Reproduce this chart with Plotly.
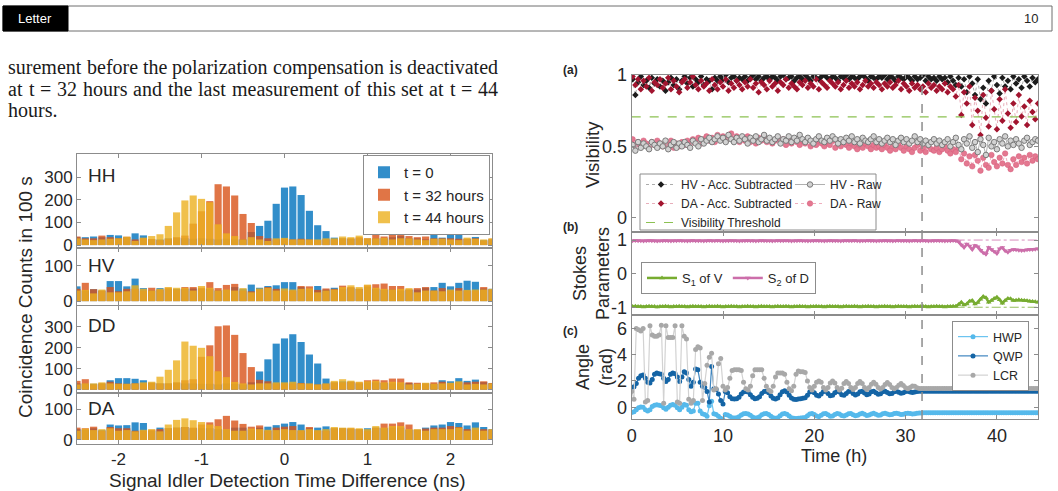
import plotly.graph_objects as go

W, H = 1058, 491
def px(x): return x / W
def py(y): return 1 - y / H

# ---------------- histogram data (coincidence counts in 100 s) ----------------
bins = [-2.5, -2.4, -2.3, -2.2, -2.1, -2.0, -1.9, -1.8, -1.7, -1.6,
        -1.5, -1.4, -1.3, -1.2, -1.1, -1.0, -0.9, -0.8, -0.7, -0.6,
        -0.5, -0.4, -0.3, -0.2, -0.1, 0.0, 0.1, 0.2, 0.3, 0.4,
        0.5, 0.6, 0.7, 0.8, 0.9, 1.0, 1.1, 1.2, 1.3, 1.4,
        1.5, 1.6, 1.7, 1.8, 1.9, 2.0, 2.1, 2.2, 2.3, 2.4, 2.5]
series_labels = ["t = 0", "t = 32 hours", "t = 44 hours"]
hist_xticks = [-2, -1, 0, 1, 2]
hist_xticktext = ["-2", "-1", "0", "1", "2"]

hh_t0 = [35, 35, 38, 35, 45, 43, 35, 52, 43, 25, 25, 30, 32, 30, 28, 30, 28, 25, 28, 25,
         25, 58, 85, 108, 183, 255, 260, 222, 152, 88, 62, 33, 30, 28, 30, 28, 30, 30, 35, 40,
         30, 30, 25, 50, 33, 55, 62, 28, 36, 22, 25]
hh_t32 = [38, 30, 30, 42, 35, 30, 37, 25, 30, 27, 22, 28, 35, 42, 95, 150, 195, 270, 260, 220,
          138, 98, 40, 30, 25, 28, 25, 28, 25, 22, 25, 25, 30, 30, 35, 30, 45, 38, 45, 50,
          40, 35, 38, 30, 30, 30, 28, 28, 30, 20, 28]
hh_t44 = [30, 25, 22, 25, 28, 30, 37, 18, 33, 40, 48, 85, 145, 198, 220, 205, 190, 92, 52, 40,
          25, 35, 25, 18, 30, 32, 25, 25, 25, 25, 30, 30, 38, 35, 42, 30, 30, 32, 25, 30,
          30, 25, 22, 28, 28, 25, 22, 33, 28, 25, 30]

hv_t0 = [42, 30, 34, 30, 57, 57, 42, 64, 37, 30, 37, 35, 35, 35, 36, 35, 35, 30, 32, 40,
         35, 47, 38, 43, 45, 54, 54, 40, 33, 43, 33, 38, 35, 38, 35, 40, 35, 32, 33, 30,
         33, 33, 38, 40, 52, 42, 52, 58, 55, 36, 35]
hv_t32 = [35, 52, 34, 30, 40, 28, 35, 35, 30, 38, 32, 38, 33, 40, 40, 38, 54, 37, 46, 49,
          30, 28, 33, 40, 35, 30, 30, 43, 42, 32, 36, 35, 44, 40, 35, 45, 48, 50, 43, 43,
          33, 37, 40, 30, 37, 30, 37, 30, 30, 40, 33]
hv_t44 = [30, 32, 22, 33, 25, 25, 28, 45, 35, 30, 35, 40, 38, 38, 30, 43, 38, 30, 33, 30,
          37, 25, 36, 38, 30, 36, 33, 35, 36, 25, 30, 33, 40, 45, 40, 47, 38, 35, 33, 35,
          37, 25, 30, 30, 28, 33, 30, 32, 33, 33, 35]

dd_t0 = [30, 28, 28, 30, 45, 55, 55, 52, 45, 33, 30, 30, 33, 30, 30, 28, 28, 25, 30, 28,
         25, 35, 87, 145, 220, 245, 265, 228, 168, 125, 53, 35, 40, 38, 30, 35, 35, 32, 30, 30,
         32, 28, 30, 28, 45, 40, 55, 42, 48, 36, 30]
dd_t32 = [42, 50, 25, 30, 38, 30, 28, 30, 30, 33, 30, 30, 35, 45, 50, 157, 212, 303, 307, 262,
          175, 108, 47, 40, 30, 30, 30, 32, 28, 25, 28, 35, 35, 38, 35, 45, 48, 45, 53, 53,
          35, 33, 30, 35, 38, 30, 35, 35, 38, 40, 32]
dd_t44 = [25, 30, 30, 35, 30, 28, 28, 30, 35, 38, 62, 95, 140, 230, 210, 200, 160, 88, 60, 37,
          30, 25, 30, 30, 35, 35, 38, 30, 30, 25, 30, 42, 50, 43, 38, 40, 42, 35, 38, 35,
          25, 28, 33, 28, 30, 33, 40, 25, 28, 25, 30]

da_t0 = [35, 33, 38, 32, 50, 47, 48, 57, 55, 30, 40, 38, 40, 42, 38, 38, 38, 35, 33, 40,
         40, 33, 40, 43, 48, 53, 58, 50, 38, 40, 44, 38, 38, 35, 35, 38, 40, 38, 40, 40,
         33, 33, 40, 47, 50, 58, 55, 47, 57, 42, 35]
da_t32 = [40, 38, 43, 30, 42, 38, 38, 30, 30, 33, 35, 38, 40, 42, 40, 50, 57, 67, 78, 63,
          52, 43, 47, 30, 40, 43, 45, 30, 42, 30, 30, 38, 38, 38, 35, 30, 40, 53, 53, 57,
          50, 33, 37, 40, 40, 45, 42, 35, 33, 35, 33]
da_t44 = [30, 37, 32, 35, 38, 30, 32, 28, 33, 35, 28, 50, 65, 70, 64, 58, 50, 45, 35, 30,
          30, 37, 35, 33, 32, 35, 32, 32, 35, 32, 35, 42, 40, 40, 38, 35, 45, 40, 45, 45,
          35, 35, 30, 35, 35, 35, 40, 30, 40, 30, 35]

# ---------------- (a) visibility vs time ----------------
t_a = [round(0.1 + 0.3 * k, 2) for k in range(149)]   # measurement times (h)
hv_acc = [0.97, 0.86, 0.95, 0.99, 0.93, 0.96, 0.91, 0.98, 0.94, 0.97,
          0.92, 0.96, 0.89, 0.95, 0.98, 0.93, 0.97, 0.90, 0.96, 0.99,
          0.94, 0.98, 0.92, 0.97, 0.95, 0.99, 0.93, 0.97, 0.96, 0.90,
          0.98, 0.96, 0.99, 0.97, 1.00, 0.95, 0.98, 0.99, 0.96, 0.98,
          0.97, 0.99, 0.96, 0.98, 1.00, 0.97, 0.99, 0.96, 0.98, 0.99,
          0.97, 0.99, 0.98, 0.96, 0.99, 1.00, 0.97, 0.98, 0.99, 0.96,
          0.98, 0.99, 0.97, 1.00, 0.98, 0.96, 0.99, 0.98, 0.97, 0.99,
          1.00, 0.98, 0.97, 0.99, 0.98, 0.96, 0.99, 0.98, 1.00, 0.97,
          0.99, 0.98, 0.97, 0.99, 1.00, 0.98, 0.96, 0.99, 0.98, 0.97,
          0.99, 0.98, 1.00, 0.97, 0.99, 0.98, 0.96, 0.99, 0.98, 0.97,
          0.99, 0.98, 0.96, 0.99, 0.97, 0.98, 1.00, 0.96, 0.99, 0.97,
          0.98, 0.96, 0.99, 0.97, 0.98, 0.95, 0.99, 0.96, 0.93, 0.98,
          0.92, 0.97, 0.88, 0.99, 0.94, 0.86, 0.97, 0.83, 0.91, 0.80,
          0.96, 0.89, 0.99, 0.93, 0.87, 0.98, 0.92, 0.96, 0.90, 0.99,
          0.94, 0.97, 0.91, 0.99, 0.96, 0.92, 0.98, 0.95, 0.97]
da_acc = [0.99, 0.93, 0.97, 0.90, 0.96, 0.92, 0.98, 0.89, 0.95, 0.93,
          0.97, 0.91, 0.94, 0.98, 0.90, 0.96, 0.92, 0.88, 0.95, 0.97,
          0.91, 0.95, 0.99, 0.93, 0.90, 0.96, 0.92, 0.94, 0.89, 0.97,
          0.93, 0.90, 0.95, 0.92, 0.97, 0.89, 0.94, 0.91, 0.96, 0.93,
          0.90, 0.95, 0.92, 0.97, 0.91, 0.94, 0.88, 0.95, 0.93, 0.90,
          0.96, 0.92, 0.94, 0.89, 0.95, 0.93, 0.97, 0.91, 0.94, 0.92,
          0.90, 0.95, 0.93, 0.96, 0.91, 0.94, 0.92, 0.97, 0.90, 0.95,
          0.93, 0.91, 0.96, 0.94, 0.92, 0.95, 0.90, 0.93, 0.96, 0.91,
          0.94, 0.92, 0.95, 0.90, 0.93, 0.96, 0.92, 0.94, 0.91, 0.95,
          0.93, 0.90, 0.94, 0.92, 0.95, 0.91, 0.93, 0.96, 0.90, 0.94,
          0.92, 0.89, 0.94, 0.91, 0.93, 0.90, 0.92, 0.88, 0.94, 0.91,
          0.93, 0.89, 0.92, 0.90, 0.94, 0.88, 0.92, 0.90, 0.85, 0.93,
          0.72, 0.88, 0.80, 0.92, 0.65, 0.84, 0.75, 0.58, 0.86, 0.70,
          0.64, 0.89, 0.76, 0.62, 0.83, 0.68, 0.90, 0.73, 0.63, 0.80,
          0.67, 0.86, 0.71, 0.78, 0.65, 0.82, 0.74, 0.69, 0.80]
hv_raw = [0.51, 0.47, 0.53, 0.49, 0.52, 0.50, 0.48, 0.53, 0.51, 0.49,
          0.52, 0.50, 0.54, 0.48, 0.51, 0.53, 0.49, 0.52, 0.50, 0.53,
          0.51, 0.49, 0.54, 0.52, 0.50, 0.55, 0.52, 0.54, 0.56, 0.53,
          0.55, 0.57, 0.54, 0.56, 0.53, 0.58, 0.55, 0.53, 0.56, 0.54,
          0.57, 0.55, 0.52, 0.56, 0.54, 0.57, 0.53, 0.55, 0.58, 0.54,
          0.56, 0.53, 0.55, 0.57, 0.52, 0.55, 0.54, 0.57, 0.53, 0.56,
          0.54, 0.58, 0.55, 0.53, 0.56, 0.54, 0.52, 0.55, 0.57, 0.54,
          0.53, 0.56, 0.54, 0.57, 0.55, 0.52, 0.55, 0.53, 0.56, 0.54,
          0.57, 0.53, 0.55, 0.52, 0.56, 0.54, 0.53, 0.55, 0.57, 0.53,
          0.55, 0.52, 0.54, 0.56, 0.53, 0.55, 0.51, 0.54, 0.56, 0.53,
          0.55, 0.52, 0.54, 0.57, 0.53, 0.55, 0.52, 0.54, 0.51, 0.53,
          0.55, 0.52, 0.54, 0.51, 0.53, 0.55, 0.50, 0.53, 0.56, 0.51,
          0.48, 0.55, 0.52, 0.57, 0.49, 0.53, 0.46, 0.55, 0.51, 0.44,
          0.56, 0.50, 0.53, 0.48, 0.55, 0.52, 0.57, 0.50, 0.54, 0.51,
          0.55, 0.52, 0.49, 0.54, 0.56, 0.51, 0.53, 0.55, 0.54]
da_raw = [0.55, 0.51, 0.53, 0.50, 0.54, 0.52, 0.49, 0.53, 0.51, 0.54,
          0.52, 0.50, 0.53, 0.51, 0.54, 0.49, 0.52, 0.50, 0.53, 0.51,
          0.54, 0.52, 0.55, 0.53, 0.56, 0.52, 0.55, 0.57, 0.54, 0.56,
          0.53, 0.58, 0.55, 0.57, 0.54, 0.56, 0.59, 0.55, 0.57, 0.53,
          0.56, 0.54, 0.57, 0.53, 0.55, 0.52, 0.56, 0.54, 0.57, 0.53,
          0.55, 0.52, 0.54, 0.56, 0.53, 0.55, 0.51, 0.54, 0.52, 0.55,
          0.53, 0.51, 0.54, 0.52, 0.55, 0.50, 0.53, 0.51, 0.54, 0.52,
          0.50, 0.53, 0.51, 0.54, 0.49, 0.52, 0.50, 0.53, 0.51, 0.49,
          0.52, 0.50, 0.48, 0.51, 0.49, 0.52, 0.50, 0.48, 0.51, 0.49,
          0.50, 0.48, 0.51, 0.49, 0.47, 0.50, 0.48, 0.51, 0.49, 0.47,
          0.50, 0.48, 0.46, 0.49, 0.51, 0.47, 0.49, 0.46, 0.50, 0.48,
          0.47, 0.49, 0.46, 0.48, 0.50, 0.47, 0.45, 0.48, 0.46, 0.49,
          0.41, 0.45, 0.38, 0.43, 0.36, 0.44, 0.40, 0.33, 0.42, 0.37,
          0.35, 0.44, 0.39, 0.36, 0.42, 0.38, 0.45, 0.37, 0.34, 0.41,
          0.37, 0.43, 0.39, 0.42, 0.38, 0.44, 0.40, 0.43, 0.41]
vis_threshold = 0.7071
t_limits = [0, 44.5]

# ---------------- (b) Stokes parameters ----------------
s1_v = [-0.98, -0.97, -0.98, -0.98, -0.99, -0.98, -0.97, -0.98, -0.98, -0.99,
        -0.98, -0.98, -0.97, -0.98, -0.99, -0.98, -0.98, -0.97, -0.98, -0.98,
        -0.99, -0.98, -0.97, -0.98, -0.98, -0.98, -0.99, -0.98, -0.97, -0.98,
        -0.98, -0.97, -0.98, -0.99, -0.98, -0.98, -0.97, -0.98, -0.98, -0.99,
        -0.98, -0.98, -0.97, -0.98, -0.98, -0.99, -0.98, -0.97, -0.98, -0.98,
        -0.98, -0.99, -0.98, -0.97, -0.98, -0.98, -0.97, -0.98, -0.99, -0.98,
        -0.98, -0.97, -0.98, -0.98, -0.99, -0.98, -0.98, -0.97, -0.98, -0.98,
        -0.99, -0.98, -0.97, -0.98, -0.98, -0.98, -0.99, -0.98, -0.97, -0.98,
        -0.98, -0.97, -0.98, -0.99, -0.98, -0.98, -0.97, -0.98, -0.98, -0.99,
        -0.98, -0.98, -0.97, -0.98, -0.98, -0.99, -0.98, -0.97, -0.98, -0.98,
        -0.98, -0.99, -0.98, -0.97, -0.98, -0.98, -0.97, -0.98, -0.99, -0.98,
        -0.98, -0.97, -0.98, -0.98, -0.99, -0.98, -0.98, -0.97,
        -0.97, -0.92, -0.85, -0.93, -0.90, -0.82, -0.80, -0.90, -0.86, -0.76,
        -0.68, -0.72, -0.85, -0.80, -0.74, -0.70, -0.78, -0.88, -0.80, -0.74,
        -0.75, -0.80, -0.79, -0.78, -0.79, -0.80, -0.81, -0.82, -0.83, -0.84, -0.85]
s2_d = [0.98, 0.99, 0.98, 0.98, 0.97, 0.98, 0.99, 0.98, 0.98, 0.97,
        0.98, 0.98, 0.99, 0.98, 0.97, 0.98, 0.98, 0.99, 0.98, 0.98,
        0.97, 0.98, 0.99, 0.98, 0.98, 0.98, 0.97, 0.98, 0.99, 0.98,
        0.98, 0.99, 0.98, 0.97, 0.98, 0.98, 0.99, 0.98, 0.98, 0.97,
        0.98, 0.98, 0.99, 0.98, 0.98, 0.97, 0.98, 0.99, 0.98, 0.98,
        0.98, 0.97, 0.98, 0.99, 0.98, 0.98, 0.99, 0.98, 0.97, 0.98,
        0.98, 0.99, 0.98, 0.98, 0.97, 0.98, 0.98, 0.99, 0.98, 0.98,
        0.97, 0.98, 0.99, 0.98, 0.98, 0.98, 0.97, 0.98, 0.99, 0.98,
        0.98, 0.99, 0.98, 0.97, 0.98, 0.98, 0.99, 0.98, 0.98, 0.97,
        0.98, 0.98, 0.99, 0.98, 0.98, 0.97, 0.98, 0.99, 0.98, 0.98,
        0.98, 0.97, 0.98, 0.99, 0.98, 0.98, 0.99, 0.98, 0.97, 0.98,
        0.98, 0.99, 0.98, 0.98, 0.97, 0.98, 0.98, 0.99,
        0.98, 0.95, 0.85, 0.78, 0.88, 0.82, 0.72, 0.84, 0.80, 0.70,
        0.62, 0.58, 0.78, 0.72, 0.66, 0.60, 0.74, 0.78, 0.68, 0.64,
        0.70, 0.72, 0.71, 0.70, 0.69, 0.70, 0.71, 0.72, 0.72, 0.73, 0.74]
stokes_ref = [1, -1]

# ---------------- (c) compensation waveplate angles ----------------
t_c = [0.25 * k for k in range(179)]   # time grid (h)
hwp = [-0.40, -0.35, -0.20, -0.05, 0.02, 0.00, -0.20, -0.30, -0.20, 0.05, 0.15, 0.18,
       0.15, 0.10, -0.05, -0.15, 0.00, 0.15, 0.20, 0.15, -0.05, -0.20, 0.00, 0.20,
       0.15, -0.20, -0.35, -0.30, 0.30, 0.30, -0.30, -0.50, -0.55, -0.70, 0.10, 0.45,
       -0.50, -0.55, -0.70, -0.85, -0.95, -0.55, -0.60, -0.70, -0.80, -0.82, -0.80, -0.72,
       -0.60, -0.50, -0.48, -0.52, -0.62, -0.75, -0.82, -0.80, -0.72, -0.58, -0.50, -0.48,
       -0.55, -0.70, -0.80, -0.84, -0.80, -0.65, -0.52, -0.48, -0.53, -0.68, -0.80, -0.85,
       -0.86, -0.84, -0.82, -0.80, -0.78, -0.66, -0.52, -0.48, -0.55, -0.68, -0.72, -0.62,
       -0.50, -0.48, -0.58, -0.70, -0.68, -0.56, -0.48, -0.52, -0.64, -0.68, -0.60, -0.50,
       -0.48, -0.58, -0.66, -0.62, -0.52, -0.47, -0.54, -0.63, -0.60, -0.51, -0.47, -0.53,
       -0.61, -0.59, -0.50, -0.47, -0.52, -0.58, -0.56, -0.49, -0.46, -0.50, -0.55, -0.53,
       -0.48, -0.46, -0.49, -0.52, -0.50, -0.47, -0.45, -0.45,
       -0.42, -0.42, -0.42, -0.42, -0.42, -0.42, -0.42, -0.42, -0.42, -0.42, -0.42, -0.42,
       -0.42, -0.42, -0.42, -0.42, -0.42, -0.42, -0.42, -0.42, -0.42, -0.42, -0.42, -0.42,
       -0.42, -0.42, -0.42, -0.42, -0.42, -0.42, -0.42, -0.42, -0.42, -0.42, -0.42, -0.42,
       -0.42, -0.42, -0.42, -0.42, -0.42, -0.42, -0.42, -0.42, -0.42, -0.42, -0.42, -0.42,
       -0.42, -0.42, -0.42]
qwp = [1.50, 1.55, 1.80, 2.20, 2.40, 2.45, 2.20, 1.90, 1.85, 2.10, 2.50, 2.60,
       2.55, 2.50, 2.20, 1.95, 2.10, 2.50, 2.60, 2.55, 2.30, 1.95, 2.30, 2.70,
       2.60, 2.10, 1.60, 1.90, 2.90, 2.85, 1.90, 1.60, 1.50, 1.20, 0.40, 3.10,
       1.40, 1.35, 1.00, 0.50, 0.25, 1.20, 1.10, 0.80, 0.65, 0.62, 0.65, 0.75,
       1.00, 1.15, 1.20, 1.15, 0.95, 0.75, 0.65, 0.68, 0.80, 1.05, 1.20, 1.22,
       1.10, 0.85, 0.68, 0.62, 0.70, 0.95, 1.18, 1.25, 1.15, 0.90, 0.70, 0.60,
       0.58, 0.62, 0.65, 0.68, 0.72, 0.90, 1.15, 1.22, 1.10, 0.90, 0.85, 1.00,
       1.20, 1.22, 1.05, 0.88, 0.90, 1.10, 1.22, 1.15, 0.95, 0.90, 1.05, 1.20,
       1.22, 1.05, 0.92, 1.00, 1.18, 1.22, 1.08, 0.95, 1.00, 1.17, 1.22, 1.10,
       0.98, 1.02, 1.18, 1.22, 1.12, 1.02, 1.05, 1.18, 1.22, 1.14, 1.06, 1.10,
       1.20, 1.22, 1.16, 1.12, 1.16, 1.20, 1.22, 1.22,
       1.22, 1.22, 1.22, 1.22, 1.22, 1.22, 1.22, 1.22, 1.22, 1.22, 1.22, 1.22,
       1.22, 1.22, 1.22, 1.22, 1.22, 1.22, 1.22, 1.22, 1.22, 1.22, 1.22, 1.22,
       1.22, 1.22, 1.22, 1.22, 1.22, 1.22, 1.22, 1.22, 1.22, 1.22, 1.22, 1.22,
       1.22, 1.22, 1.22, 1.22, 1.22, 1.22, 1.22, 1.22, 1.22, 1.22, 1.22, 1.22,
       1.22, 1.22, 1.22]
lcr = [1.20, 0.60, 6.00, 5.90, 5.80, 6.00, 0.40, 0.50, 6.20, 5.50, 5.40, 5.40,
       5.50, 6.25, 0.30, 6.20, 5.30, 5.30, 5.30, 6.20, 0.40, 0.30, 6.20, 5.40,
       5.20, 0.60, 0.30, 0.50, 4.40, 4.60, 4.50, 0.50, 1.80, 3.20, 3.80, 4.10,
       1.30, 1.40, 3.30, 3.70, 1.60, 1.30, 1.50, 2.20, 2.80, 2.85, 2.85, 2.85,
       2.80, 1.90, 1.40, 1.30, 1.60, 2.40, 2.85, 2.85, 2.85, 2.85, 2.20, 1.60,
       1.30, 1.20, 1.60, 2.30, 2.60, 2.60, 2.60, 2.50, 1.90, 1.40, 1.25, 1.60,
       2.50, 2.75, 2.70, 2.70, 2.65, 2.00, 1.50, 1.30, 1.60, 1.90, 2.00, 1.90,
       1.50, 1.30, 1.50, 1.85, 2.00, 1.85, 1.50, 1.30, 1.45, 1.80, 1.95, 1.80,
       1.50, 1.35, 1.50, 1.80, 1.95, 1.80, 1.50, 1.35, 1.50, 1.75, 1.90, 1.75,
       1.50, 1.38, 1.50, 1.72, 1.88, 1.72, 1.50, 1.40, 1.50, 1.68, 1.80, 1.65,
       1.48, 1.40, 1.50, 1.62, 1.60, 1.48, 1.42, 1.42,
       1.42, 1.42, 1.42, 1.42, 1.42, 1.42, 1.42, 1.42, 1.42, 1.42, 1.42, 1.42,
       1.42, 1.42, 1.42, 1.42, 1.42, 1.42, 1.42, 1.42, 1.42, 1.42, 1.42, 1.42,
       1.42, 1.42, 1.42, 1.42, 1.42, 1.42, 1.42, 1.42, 1.42, 1.42, 1.42, 1.42,
       1.42, 1.42, 1.42, 1.42, 1.42, 1.42, 1.42, 1.42, 1.42, 1.42, 1.42, 1.42,
       1.42, 1.42, 1.42]
t_deactivated = 31.8

# ---------------- styling ----------------
FONT = "Liberation Sans, Arial, Helvetica, sans-serif"
SERIF = "Liberation Serif, Times New Roman, serif"
AXC = "#8c8c8c"
TXT = "#262626"
BLUE, ORANGE, YELLOW = "#0072BD", "#D95319", "#EDB120"

fig = go.Figure()

panels = [("HH", hh_t0, hh_t32, hh_t44, "x", "y"),
          ("HV", hv_t0, hv_t32, hv_t44, "x2", "y2"),
          ("DD", dd_t0, dd_t32, dd_t44, "x3", "y3"),
          ("DA", da_t0, da_t32, da_t44, "x4", "y4")]
for k, (pname, s0, s32, s44, xa, ya) in enumerate(panels):
    for vals, col, lab in zip((s0, s32, s44), (BLUE, ORANGE, YELLOW), series_labels):
        fig.add_trace(go.Bar(x=bins, y=vals, width=0.086, name=lab,
                             marker=dict(color=col, line=dict(width=0)), opacity=0.8,
                             showlegend=(k == 0), legend="legend", xaxis=xa, yaxis=ya,
                             hoverinfo="skip"))

# (a)
fig.add_trace(go.Scatter(x=t_a, y=hv_acc, mode="lines+markers", name="HV - Acc. Subtracted",
                         line=dict(color="rgba(70,70,70,0.45)", width=1, dash="dot"),
                         marker=dict(symbol="diamond", size=5, color="#1c1c1c"),
                         xaxis="x5", yaxis="y5", legend="legend2"))
fig.add_trace(go.Scatter(x=t_a, y=da_acc, mode="lines+markers", name="DA - Acc. Subtracted",
                         line=dict(color="rgba(215,120,140,0.6)", width=1, dash="dot"),
                         marker=dict(symbol="diamond", size=5, color="#A2142F"),
                         xaxis="x5", yaxis="y5", legend="legend2"))
fig.add_trace(go.Scatter(x=t_limits, y=[vis_threshold, vis_threshold], mode="lines",
                         name="Visibility Threshold",
                         line=dict(color="#8CC152", width=1.2, dash="dash"),
                         xaxis="x5", yaxis="y5", legend="legend2"))
fig.add_trace(go.Scatter(x=t_a, y=da_raw, mode="lines+markers", name="DA - Raw",
                         line=dict(color="rgba(228,120,145,0.6)", width=1, dash="dot"),
                         marker=dict(symbol="circle", size=5.5, color="#E47890",
                                     line=dict(color="#D45A7A", width=0.5)),
                         xaxis="x5", yaxis="y5", legend="legend3", legendrank=2))
fig.add_trace(go.Scatter(x=t_a, y=hv_raw, mode="lines+markers", name="HV - Raw",
                         line=dict(color="#B0B0B0", width=1),
                         marker=dict(symbol="circle", size=5.5, color="#D2D2D2",
                                     line=dict(color="#7A7A7A", width=1)),
                         xaxis="x5", yaxis="y5", legend="legend3", legendrank=1))

# (b)
for ref, col in zip(stokes_ref, ("#CC6EAA", "#77AC30")):
    fig.add_trace(go.Scatter(x=t_limits, y=[ref, ref], mode="lines", showlegend=False,
                             line=dict(color=col, width=0.8, dash="dashdot"),
                             xaxis="x6", yaxis="y6", hoverinfo="skip"))
fig.add_trace(go.Scatter(x=t_a, y=s1_v, mode="lines+markers", name="S<sub>1</sub> of V",
                         line=dict(color="#77AC30", width=2.5),
                         marker=dict(symbol="triangle-up", size=5, color="#77AC30"),
                         xaxis="x6", yaxis="y6", legend="legend4"))
fig.add_trace(go.Scatter(x=t_a, y=s2_d, mode="lines+markers", name="S<sub>2</sub> of D",
                         line=dict(color="#CC6EAA", width=2.5),
                         marker=dict(symbol="triangle-down", size=5, color="#CC6EAA"),
                         xaxis="x6", yaxis="y6", legend="legend4"))

# (c)
fig.add_trace(go.Scatter(x=t_c, y=hwp, mode="lines+markers", name="HWP",
                         line=dict(color="#6CC4F0", width=1.2),
                         marker=dict(size=5, color="#55B9EB"),
                         xaxis="x7", yaxis="y7", legend="legend5"))
fig.add_trace(go.Scatter(x=t_c, y=qwp, mode="lines+markers", name="QWP",
                         line=dict(color="#3F86C0", width=1.2),
                         marker=dict(size=5, color="#1464A5"),
                         xaxis="x7", yaxis="y7", legend="legend5"))
fig.add_trace(go.Scatter(x=t_c, y=lcr, mode="lines+markers", name="LCR",
                         line=dict(color="#D2D2D2", width=1.2),
                         marker=dict(size=5, color="#A8A8A8"),
                         xaxis="x7", yaxis="y7", legend="legend5"))


def axis(domain, anchor, rng, tickvals, ticktext=None, labels=True, size=17):
    return dict(domain=domain, anchor=anchor, range=rng, tickvals=tickvals,
                ticktext=ticktext if ticktext else [str(v) for v in tickvals],
                showticklabels=labels, ticks="inside", ticklen=4, tickwidth=1, tickcolor=AXC,
                showline=True, linecolor=AXC, linewidth=1, mirror="ticks",
                showgrid=False, zeroline=False, fixedrange=True,
                tickfont=dict(family=FONT, size=size, color=TXT))

HX = [px(77), px(492)]
RX = [px(631.7), px(1038)]
layout = dict(
    width=W, height=H, autosize=False,
    margin=dict(l=0, r=0, t=0, b=0, pad=0, autoexpand=False),
    paper_bgcolor="white", plot_bgcolor="white", barmode="overlay",
    font=dict(family=FONT, color=TXT),
    xaxis=axis(HX, "y", [-2.5, 2.5], hist_xticks, hist_xticktext, labels=False),
    xaxis2=axis(HX, "y2", [-2.5, 2.5], hist_xticks, hist_xticktext, labels=False),
    xaxis3=axis(HX, "y3", [-2.5, 2.5], hist_xticks, hist_xticktext, labels=False),
    xaxis4=axis(HX, "y4", [-2.5, 2.5], hist_xticks, hist_xticktext, labels=True),
    yaxis=axis([py(248), py(154)], "x", [-13, 404], [0, 100, 200, 300]),
    yaxis2=axis([py(305), py(248)], "x2", [-11, 151], [0, 100]),
    yaxis3=axis([py(393), py(306)], "x3", [-16, 400], [0, 100, 200, 300]),
    yaxis4=axis([py(444), py(393)], "x4", [-13, 152], [0, 100]),
    xaxis5=axis(RX, "y5", t_limits, [0, 10, 20, 30, 40], labels=False, size=18),
    xaxis6=axis(RX, "y6", t_limits, [0, 10, 20, 30, 40], labels=False, size=18),
    xaxis7=axis(RX, "y7", t_limits, [0, 10, 20, 30, 40], labels=True, size=18),
    yaxis5=axis([py(232), py(75)], "x5", [-0.1, 1.0], [0, 0.5, 1], ["0", "0.5", "1"], size=18),
    yaxis6=axis([py(315.3), py(232)], "x6", [-1.24, 1.24], [-1, 0, 1], ["-1", "0", "1"], size=18),
    yaxis7=axis([py(419), py(315.3)], "x7", [-0.9, 7], [0, 2, 4, 6], size=18),
    legend=dict(x=px(490), xanchor="right", y=py(155), yanchor="top",
                font=dict(family=FONT, size=15, color=TXT), bgcolor="white",
                bordercolor=AXC, borderwidth=1, tracegroupgap=0, itemwidth=30),
    legend2=dict(x=px(641), xanchor="left", y=py(170), yanchor="top",
                 font=dict(family=FONT, size=12, color=TXT), bgcolor="rgba(0,0,0,0)",
                 borderwidth=0, tracegroupgap=0, itemwidth=30, traceorder="normal"),
    legend3=dict(x=px(790), xanchor="left", y=py(170), yanchor="top",
                 font=dict(family=FONT, size=12, color=TXT), bgcolor="rgba(0,0,0,0)",
                 borderwidth=0, tracegroupgap=0, itemwidth=30, traceorder="normal"),
    legend4=dict(x=px(641), xanchor="left", y=py(262), yanchor="top", orientation="h",
                 font=dict(family=FONT, size=13, color=TXT), bgcolor="white",
                 bordercolor=AXC, borderwidth=1, itemwidth=30),
    legend5=dict(x=px(1029), xanchor="right", y=py(321), yanchor="top",
                 font=dict(family=FONT, size=12.5, color=TXT), bgcolor="white",
                 bordercolor=AXC, borderwidth=1, tracegroupgap=0, itemwidth=30),
)
fig.update_layout(**layout)

shapes = [
    dict(type="rect", xref="paper", yref="paper", x0=px(3), x1=px(1052), y0=py(31), y1=py(6),
         line=dict(color="#6e6e6e", width=1)),
    dict(type="rect", xref="paper", yref="paper", x0=px(3), x1=px(68), y0=py(31), y1=py(6),
         line=dict(color="black", width=1), fillcolor="black"),
    dict(type="rect", xref="paper", yref="paper", x0=px(640), x1=px(876), y0=py(230), y1=py(174),
         line=dict(color=AXC, width=1), fillcolor="white", layer="above"),
    dict(type="line", xref="x7", yref="paper", x0=t_deactivated, x1=t_deactivated,
         y0=py(419), y1=py(75), line=dict(color="#8c8c8c", width=1.5, dash="dash"), layer="above"),
]
fig.update_layout(shapes=shapes)

ann = []
def text(x, y, s, size, angle=0, bold=False, color=TXT, family=FONT, xanchor="center"):
    ann.append(dict(x=px(x), y=py(y), xref="paper", yref="paper", text=(f"<b>{s}</b>" if bold else s),
                    showarrow=False, textangle=angle, xanchor=xanchor, yanchor="middle",
                    borderpad=0, font=dict(family=family, size=size, color=color)))

# header
text(35, 19, "Letter", 13, color="white", family="Liberation Sans Narrow, Liberation Sans, Arial")
text(1031, 19, "10", 13)

# justified paragraph (Times metrics)
TW = {' ': 250, 'a': 444, 'b': 500, 'c': 444, 'd': 500, 'e': 444, 'f': 333, 'g': 500, 'h': 500,
      'i': 278, 'l': 278, 'm': 778, 'n': 500, 'o': 500, 'p': 500, 'r': 333, 's': 389, 't': 278,
      'u': 500, 'v': 500, 'z': 444, '=': 564, '2': 500, '3': 500, '4': 500, '.': 250}
PFS = 20
def wwidth(w): return sum(TW.get(ch, 500) for ch in w) * PFS / 1000.0
para = [("surement before the polarization compensation is deactivated", 67.0, True),
        ("at t = 32 hours and the last measurement of this set at t = 44", 88.7, True),
        ("hours.", 110.3, False)]
L0, L1 = 7.3, 497
for line, yc, just in para:
    words = line.split(" ")
    widths = [wwidth(w) for w in words]
    gap = (L1 - L0 - sum(widths)) / (len(words) - 1) if just else 0
    xx = L0
    for w, wd in zip(words, widths):
        text(xx, yc, w, PFS, family=SERIF, color="#1a1a1a", xanchor="left")
        xx += wd + gap

# histogram labels
for lab, yy in (("HH", 175), ("HV", 265), ("DD", 325), ("DA", 408)):
    text(101, yy, lab, 19)
text(25, 297, "Coincidence Counts in 100 s", 19, angle=-90)
text(287, 480, "Signal Idler Detection Time Difference (ns)", 19)

# right figure labels
text(570, 70, "(a)", 12, bold=True)
text(570, 227, "(b)", 12, bold=True)
text(570, 331, "(c)", 12, bold=True)
text(592, 155, "Visibility", 18.5, angle=-90)
text(591, 274, "Stokes<br>Parameters", 18, angle=-90)
text(594, 367, "Angle<br>(rad)", 18, angle=-90)
text(834, 456, "Time (h)", 18)
fig.update_layout(annotations=ann)

fig.write_html("out.html",
               post_script="document.documentElement.style.margin='0';"
                           "document.body.style.margin='0';"
                           "document.body.style.overflow='hidden';")
